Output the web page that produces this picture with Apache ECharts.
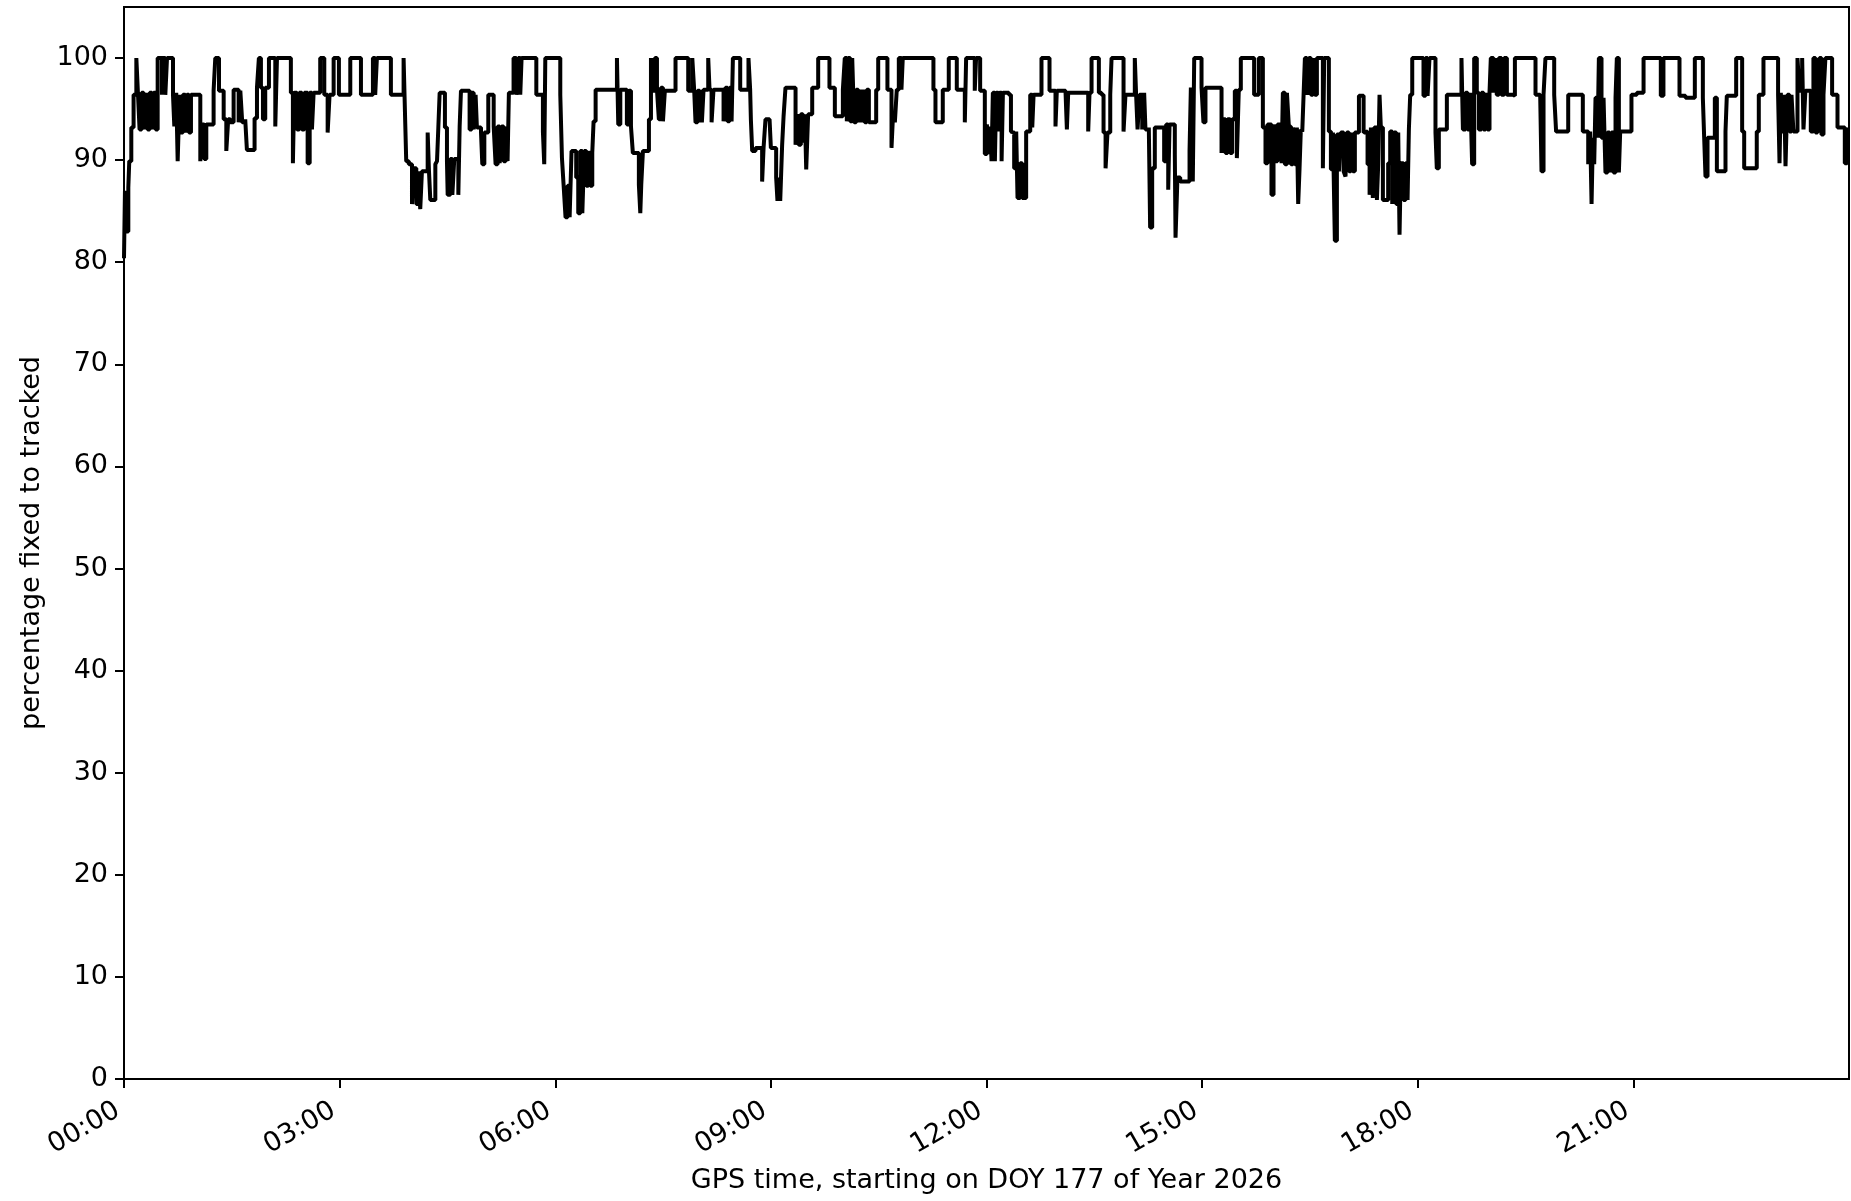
<!DOCTYPE html>
<html>
<head>
<meta charset="utf-8">
<title>percentage fixed to tracked</title>
<script src="https://cdn.jsdelivr.net/npm/echarts@6.0.0/dist/echarts.min.js"></script>
<style>
  html, body { margin: 0; padding: 0; background: #fff; }
  #main { width: 1851px; height: 1201px; }
</style>
</head>
<body>
<div id="main"></div>
<script>
// GPS time in minutes since 00:00, percentage fixed to tracked
// one array per 4-hour block, [minute, percent]
const block00 = [
  [0, 80.4], [0.8, 87.0], [1.9, 83.0], [3.6, 87.3], [4.4, 89.9], [6.1, 93.2], [8.0, 96.4],
  [10.3, 100], [11.7, 96.4], [13.0, 93.0], [14.7, 96.6], [16.4, 93.0], [18.05, 96.6],
  [19.7, 93.0], [21.4, 96.6], [23.3, 93.0], [24.7, 96.6], [26.4, 93.0], [28.1, 100],
  [31.7, 96.4], [32.5, 100], [34.5, 96.4], [35.9, 100], [40.9, 96.4], [42.0, 93.3],
  [43.6, 96.6], [44.8, 89.9], [46.4, 96.4], [47.5, 92.7], [49.2, 96.4], [51.2, 92.7],
  [52.5, 96.4], [54.2, 92.7], [55.9, 96.4], [63.7, 89.9], [65.3, 93.5], [67.0, 90.1],
  [68.7, 93.5], [74.8, 96.8], [76.2, 100], [79.3, 96.8], [83.2, 94.0], [85.4, 90.9],
  [87.0, 94.0], [88.7, 93.7], [91.5, 96.9], [95.7, 93.7], [97.1, 96.8], [98.7, 93.7],
  [101.2, 94.0], [102.6, 91.0], [109.0, 94.1], [111.0, 97.1], [112.6, 100], [114.3, 97.1],
  [116.0, 94.0], [117.9, 97.1], [121.0, 100], [126.3, 93.3], [127.7, 100], [139.3, 96.6],
  [141.0, 89.7], [142.1, 96.6], [144.4, 93.0], [146.3, 96.6], [148.5, 93.0], [150.5, 96.6],
  [153.3, 89.7], [155.0, 96.6], [156.9, 93.0], [158.3, 96.6], [163.8, 100], [167.2, 96.4],
  [170.0, 92.7], [171.6, 96.4], [175.0, 100], [179.4, 96.4], [188.9, 100], [197.8, 96.4],
  [207.8, 100], [209.7, 96.4], [211.1, 100], [222.8, 96.4], [233.4, 100], [234.8, 93.5],
  [235.6, 89.9], [237.8, 89.6]
];
const block04 = [
  [239.0, 89.6], [240.4, 85.7], [241.8, 89.2], [244.0, 85.7], [245.7, 88.9], [247.3, 85.2],
  [248.7, 88.9], [253.5, 92.7], [254.6, 88.9], [255.7, 86.1], [259.9, 89.6], [261.3, 89.9],
  [262.4, 93.2], [263.5, 96.6], [267.9, 93.2], [269.6, 89.9], [270.2, 86.6], [272.4, 90.1],
  [274.1, 86.6], [275.7, 90.1], [279.1, 86.6], [280.2, 93.3], [281.3, 96.8], [288.5, 93.0],
  [290.2, 96.6], [291.9, 93.0], [293.5, 96.4], [294.6, 93.2], [298.0, 92.8], [299.1, 89.6],
  [300.8, 92.7], [304.1, 96.4], [308.6, 93.3], [310.2, 89.6], [311.9, 93.3], [313.6, 89.7],
  [315.2, 93.3], [316.9, 89.9], [318.6, 93.3], [320.2, 89.9], [321.3, 96.6], [325.2, 100],
  [327.5, 96.4], [329.1, 100], [330.8, 96.4], [331.9, 100], [344.2, 96.4], [349.7, 92.8],
  [350.8, 89.6], [351.7, 100], [364.2, 96.4], [365.6, 90.2], [367.0, 87.5], [368.6, 84.4],
  [370.3, 87.5], [372.0, 84.4], [373.6, 90.9], [377.5, 88.3], [379.2, 84.8], [380.9, 90.9],
  [382.6, 84.8], [384.2, 90.9], [385.9, 87.5], [387.6, 90.9], [389.2, 87.5], [390.9, 90.7],
  [392.0, 93.8], [393.7, 96.9], [411.5, 100], [412.6, 93.5], [414.3, 96.9], [419.8, 93.5],
  [421.5, 96.8], [423.2, 93.3], [424.8, 90.7], [429.8, 87.6], [431.0, 84.8], [431.8, 87.6],
  [433.2, 90.9], [438.2, 94.0], [439.9, 100], [441.5, 96.8], [443.2, 100], [444.9, 96.9],
  [446.5, 94.0], [448.2, 97.1], [449.9, 93.8], [451.5, 96.8], [460.4, 100], [471.0, 96.8],
  [474.4, 100], [476.0, 96.8], [477.1, 93.7], [478.8, 96.8], [480.5, 93.7]
];
const block08 = [
  [481.0, 96.9], [482.4, 93.7], [483.8, 96.9], [487.7, 100], [488.8, 96.9], [490.5, 93.7],
  [492.1, 96.9], [500.5, 93.8], [502.1, 97.1], [503.8, 93.8], [505.5, 97.1], [507.2, 93.8],
  [508.3, 100], [514.4, 96.9], [521.3, 100], [522.7, 96.9], [523.3, 94.0], [524.4, 90.9],
  [527.2, 91.2], [532.7, 87.9], [533.9, 91.2], [535.5, 94.0], [538.9, 94.1], [540.0, 91.2],
  [544.4, 88.3], [545.5, 86.0], [546.7, 88.3], [547.8, 86.0], [549.4, 91.5], [550.6, 94.3],
  [552.2, 97.1], [560.6, 91.5], [561.7, 94.5], [563.3, 91.5], [565.0, 94.5], [566.7, 91.9],
  [568.4, 94.5], [569.5, 89.1], [571.1, 94.5], [574.5, 97.1], [579.5, 100], [588.9, 97.1],
  [593.4, 94.3], [600.1, 96.9], [601.7, 100], [603.4, 93.8], [604.5, 100], [606.2, 93.8],
  [607.9, 100], [609.5, 93.7], [611.2, 96.9], [612.9, 93.7], [614.5, 96.9], [615.7, 93.7],
  [617.3, 96.9], [618.4, 93.7], [620.1, 96.9], [621.8, 93.7], [627.9, 96.9], [629.6, 100],
  [637.3, 96.9], [640.7, 91.2], [641.8, 94.0], [643.5, 93.7], [645.1, 96.9], [646.8, 100],
  [649.0, 96.9], [650.1, 100], [675.7, 96.9], [677.4, 93.7], [683.5, 96.9], [688.5, 100],
  [695.2, 96.9], [701.9, 93.7], [703.0, 100], [710.2, 96.8], [711.3, 100], [714.7, 96.8],
  [718.6, 90.6], [720.3, 93.5], [721.9, 90.6]
];
const block12 = [
  [723.1, 93.3], [724.2, 89.9], [725.3, 96.6], [727.0, 89.9], [728.1, 96.6], [729.8, 92.8],
  [730.9, 96.6], [732.6, 89.9], [733.7, 96.6], [738.7, 96.4], [740.4, 92.8], [742.0, 92.7],
  [743.1, 89.2], [744.8, 92.8], [745.9, 86.3], [748.1, 89.7], [749.8, 86.3], [753.1, 92.8],
  [756.5, 96.4], [758.2, 93.2], [759.3, 96.4], [765.9, 100], [772.6, 96.8], [777.6, 93.3],
  [778.7, 96.8], [786.0, 96.6], [787.1, 93.0], [788.2, 96.6], [804.9, 92.8], [806.0, 96.6],
  [807.7, 100], [813.8, 96.6], [816.0, 96.4], [817.7, 92.7], [819.4, 89.2], [821.0, 92.7],
  [823.3, 96.4], [824.4, 100], [834.4, 92.8], [836.0, 96.4], [843.8, 100], [844.9, 96.4],
  [846.1, 93.0], [847.7, 96.4], [850.0, 93.0], [851.6, 96.6], [852.7, 93.0], [855.5, 93.2],
  [856.6, 83.4], [858.3, 89.2], [860.5, 93.2], [868.3, 89.9], [870.0, 93.5], [871.7, 87.1],
  [872.8, 93.5], [877.2, 90.6], [877.8, 82.4], [879.4, 88.3], [881.7, 87.9], [889.5, 90.9],
  [890.6, 97.1], [892.2, 87.9], [893.4, 100], [899.5, 97.1], [901.1, 93.7], [902.8, 97.1],
  [916.2, 90.7], [917.3, 94.0], [919.5, 90.7], [921.2, 94.0], [923.4, 90.7], [925.1, 94.0],
  [927.3, 96.8], [929.0, 90.2], [930.6, 96.9], [932.3, 100], [943.4, 96.4], [947.3, 100],
  [950.7, 93.2], [952.9, 89.7], [954.6, 93.5], [957.9, 86.6], [959.6, 93.5], [961.2, 89.9],
  [962.9, 93.5]
];
const block16 = [
  [965.2, 93.3], [966.3, 89.7], [967.4, 96.6], [969.1, 89.6], [970.8, 96.6], [972.4, 93.3],
  [974.1, 89.6], [975.8, 93.2], [977.4, 89.6], [979.1, 93.2], [980.2, 85.7], [981.3, 89.1],
  [982.4, 93.0], [983.6, 92.8], [984.7, 96.4], [985.8, 100], [987.5, 96.4], [989.1, 100],
  [990.8, 96.4], [992.5, 100], [994.1, 96.4], [995.8, 100], [1000.8, 89.2], [1001.9, 100],
  [1005.8, 92.8], [1007.5, 89.1], [1009.2, 92.7], [1010.8, 82.1], [1012.5, 92.5], [1014.2, 88.9],
  [1015.8, 92.7], [1018.1, 88.9], [1019.7, 88.4], [1020.8, 92.7], [1022.5, 88.9], [1024.2, 92.7],
  [1025.8, 88.9], [1027.5, 92.7], [1030.9, 96.3], [1034.8, 92.7], [1036.4, 92.8], [1038.1, 89.6],
  [1039.8, 86.6], [1040.9, 93.2], [1042.5, 86.3], [1043.7, 93.2], [1045.9, 86.1], [1047.0, 89.6],
  [1048.1, 96.4], [1049.2, 93.2], [1050.9, 86.1], [1055.3, 89.7], [1057.0, 92.8], [1058.7, 85.7],
  [1060.3, 92.7], [1062.0, 85.7], [1063.7, 92.7], [1064.8, 82.7], [1065.9, 89.7], [1068.1, 86.1],
  [1069.8, 89.7], [1071.5, 86.1], [1072.6, 93.0], [1073.7, 96.4], [1075.4, 100], [1084.8, 96.3],
  [1086.5, 100], [1088.2, 96.3], [1089.8, 100], [1094.8, 92.7], [1095.9, 89.2], [1097.6, 93.0],
  [1104.3, 96.4], [1116.5, 100], [1117.7, 93.0], [1119.9, 96.6], [1121.6, 93.0], [1123.8, 96.6],
  [1125.4, 89.6], [1127.1, 100], [1129.3, 96.6], [1131.0, 93.0], [1133.2, 96.6], [1134.9, 93.0],
  [1136.6, 96.6], [1138.2, 93.0], [1139.9, 96.6], [1141.0, 100], [1143.2, 96.6], [1144.4, 100],
  [1146.0, 96.4], [1147.7, 100], [1149.9, 96.4], [1152.1, 100], [1154.4, 96.4], [1159.4, 96.3],
  [1161.1, 100], [1178.3, 96.4], [1182.2, 96.3], [1183.3, 88.9], [1185.0, 96.4], [1186.6, 100],
  [1193.9, 96.4], [1195.5, 92.8]
];
const block20 = [
  [1198.9, 92.8], [1205.6, 96.4], [1217.8, 92.8], [1222.3, 89.6], [1223.9, 92.8], [1225.1, 85.7],
  [1226.2, 92.2], [1227.3, 89.6], [1228.4, 96.1], [1230.1, 92.2], [1231.2, 100], [1233.4, 92.2],
  [1235.1, 96.1], [1236.7, 88.8], [1238.4, 92.7], [1240.1, 88.8], [1241.7, 92.7], [1243.4, 88.8],
  [1245.1, 96.1], [1246.2, 100], [1247.9, 88.8], [1249.0, 92.8], [1258.4, 96.4], [1262.9, 96.6],
  [1268.5, 100], [1282.9, 96.3], [1285.1, 100], [1298.5, 96.3], [1303.5, 96.1], [1311.3, 100],
  [1318.0, 96.1], [1319.1, 92.2], [1320.2, 88.4], [1321.9, 92.2], [1328.0, 96.1], [1329.7, 88.9],
  [1336.9, 92.8], [1338.0, 96.3], [1345.8, 100], [1350.8, 92.8], [1352.5, 89.2], [1363.0, 92.8],
  [1364.7, 96.4], [1368.6, 100], [1380.8, 96.4], [1382.0, 89.7], [1383.1, 96.6], [1384.2, 92.8],
  [1385.9, 96.4], [1387.0, 89.4], [1388.6, 96.4], [1390.3, 92.8], [1392.0, 96.4], [1393.6, 92.8],
  [1397.0, 100], [1398.6, 96.8], [1400.9, 100], [1402.0, 93.0], [1403.6, 96.8], [1408.1, 92.8],
  [1410.3, 100], [1412.0, 92.7], [1413.7, 96.8], [1415.3, 100], [1417.0, 92.5], [1418.7, 96.4],
  [1420.3, 100], [1425.9, 96.4], [1430.4, 93.2], [1436.5, 89.7], [1438.5, 93.2]
];

const hourTicks = [0, 180, 360, 540, 720, 900, 1080, 1260];
const pctTicks = [0, 10, 20, 30, 40, 50, 60, 70, 80, 90, 100];

const FONT = 'DejaVu Sans';
const FSIZE = 27;

function hhmm(m) {
  const h = Math.floor(m / 60);
  const mm = Math.round(m % 60);
  return String(h).padStart(2, '0') + ':' + String(mm).padStart(2, '0');
}

const series = block00.concat(block04, block08, block12, block16, block20);

const chart = echarts.init(document.getElementById('main'));
chart.setOption({
  animation: false,
  backgroundColor: '#fff',
  grid: {
    left: 124, right: 2, top: 7, bottom: 122,
    show: true, borderColor: '#000', borderWidth: 2,
    containLabel: false, outerBoundsMode: 'none'
  },
  xAxis: {
    type: 'value',
    min: 0,
    max: 1440,
    interval: 180,
    name: 'GPS time, starting on DOY 177 of Year 2026',
    nameLocation: 'middle',
    nameGap: 88,
    nameTextStyle: { fontFamily: FONT, fontSize: FSIZE, color: '#000' },
    axisLine: { show: true, lineStyle: { color: '#000', width: 2 } },
    axisTick: { show: true, length: 9, lineStyle: { color: '#000', width: 2 }, customValues: hourTicks },
    axisLabel: {
      customValues: hourTicks,
      rotate: 30,
      margin: 26,
      padding: [0, 7, 0, 0],
      fontFamily: FONT, fontSize: FSIZE, color: '#000',
      formatter: hhmm
    },
    splitLine: { show: false }
  },
  yAxis: {
    type: 'value',
    min: 0,
    max: 105,
    interval: 10,
    name: 'percentage fixed to tracked',
    nameLocation: 'middle',
    nameGap: 78,
    nameTextStyle: { fontFamily: FONT, fontSize: FSIZE, color: '#000' },
    axisLine: { show: true, lineStyle: { color: '#000', width: 2 } },
    axisTick: { show: true, length: 9, lineStyle: { color: '#000', width: 2 }, customValues: pctTicks },
    axisLabel: {
      customValues: pctTicks,
      margin: 16,
      fontFamily: FONT, fontSize: FSIZE, color: '#000'
    },
    splitLine: { show: false }
  },
  series: [{
    type: 'line',
    step: 'end',
    data: series,
    showSymbol: false,
    sampling: null,
    lineStyle: { color: '#000', width: 4 },
    clip: true
  }]
});
</script>
</body>
</html>
